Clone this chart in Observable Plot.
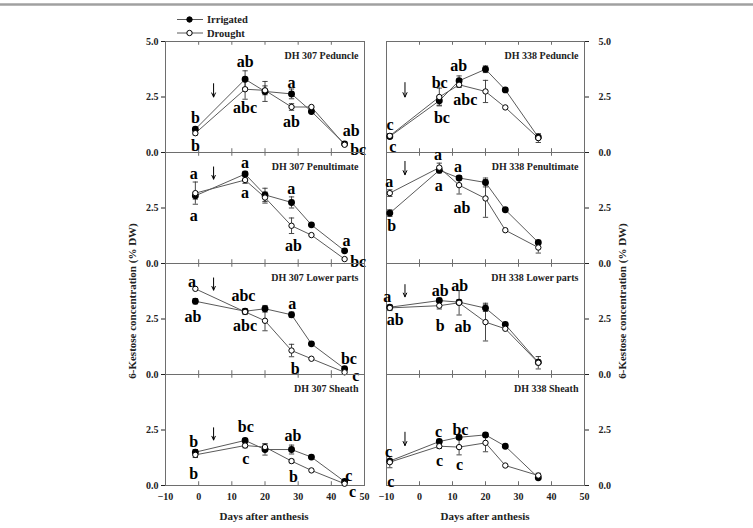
<!DOCTYPE html>
<html><head><meta charset="utf-8">
<script src="https://cdn.jsdelivr.net/npm/d3@7"></script>
<script src="https://cdn.jsdelivr.net/npm/@observablehq/plot@0.6"></script>
<style>
body{margin:0;background:#fff;}
#wrap{position:relative;width:753px;height:528px;overflow:hidden;background:#fff;font-family:'Liberation Serif','Times New Roman',serif;}
#wrap svg{position:absolute;overflow:visible;}
#wrap svg text{font-family:'Liberation Serif','Times New Roman',serif !important;}
</style></head><body><div id="wrap"></div>
<script>
const organs = ["Peduncle", "Penultimate", "Lower parts", "Sheath"];
const genotypes = ["DH 307", "DH 338"];
const days307 = [-1, 14, 20, 28, 34, 44];
const days338 = [-9, 6, 12, 20, 26, 36];
const xTicks = [-10, 0, 10, 20, 30, 40, 50];
const seriesNames = ["Irrigated", "Drought"];

// mean values, rows = organs
const irr307 = [
  [1.05, 3.3, 2.75, 2.64, 1.85, 0.39],
  [3.05, 4.03, 3.09, 2.75, 1.74, 0.57],
  [3.3, 2.85, 2.96, 2.69, 1.38, 0.26],
  [1.5, 2.03, 1.62, 1.62, 1.28, 0.18]];
const dro307 = [
  [0.87, 2.85, 2.8, 2.05, 2.05, 0.35],
  [3.17, 3.76, 2.97, 1.7, 1.28, 0.2],
  [3.86, 2.82, 2.42, 1.08, 0.71, 0.1],
  [1.38, 1.8, 1.73, 1.1, 0.68, 0.08]];
const irr338 = [
  [0.72, 2.33, 3.23, 3.75, 2.82, 0.69],
  [2.27, 4.2, 3.85, 3.65, 2.42, 0.95],
  [3.03, 3.33, 3.26, 2.99, 2.25, 0.55],
  [1.1, 1.98, 2.17, 2.28, 1.77, 0.35]];
const dro338 = [
  [0.75, 2.5, 3.05, 2.75, 2.03, 0.65],
  [3.17, 4.32, 3.53, 2.93, 1.5, 0.72],
  [3.0, 3.1, 3.23, 2.36, 2.06, 0.53],
  [1.05, 1.77, 1.73, 1.92, 0.9, 0.45]];

// error bars (half-length)
const errIrr307 = [
  [0.08, 0.38, 0.45, 0.22, 0.05, 0.05],
  [0.15, 0.12, 0.3, 0.25, 0.05, 0.05],
  [0.12, 0.1, 0.15, 0.12, 0.05, 0.05],
  [0.12, 0.08, 0.25, 0.2, 0.05, 0.05]];
const errDro307 = [
  [0.08, 0.45, 0.2, 0.15, 0.05, 0.05],
  [0.5, 0.15, 0.25, 0.35, 0.05, 0.05],
  [0.05, 0.12, 0.45, 0.28, 0.05, 0.05],
  [0.12, 0.1, 0.15, 0.08, 0.05, 0.05]];
const errIrr338 = [
  [0.05, 0.2, 0.22, 0.15, 0.05, 0.05],
  [0.15, 0.12, 0.1, 0.2, 0.05, 0.08],
  [0.05, 0.1, 0.1, 0.15, 0.05, 0.05],
  [0.05, 0.08, 0.1, 0.08, 0.05, 0.05]];
const errDro338 = [
  [0.1, 0.4, 0.12, 0.5, 0.05, 0.2],
  [0.15, 0.2, 0.4, 0.85, 0.05, 0.25],
  [0.12, 0.15, 0.55, 0.85, 0.05, 0.28],
  [0.25, 0.1, 0.35, 0.4, 0.05, 0.1]];

// significance letters: [day, value, letter]
const letters307 = [
  [[-1, 1.56, "b"], [-1, 0.3, "b"], [14, 4.09, "ab"], [14, 2.01, "abc"], [28, 3.14, "a"], [28, 1.38, "ab"], [46, 0.98, "ab"], [48.1, 0.12, "bc"]],
  [[-1.5, 4.04, "a"], [-1.5, 2.15, "a"], [14, 4.54, "a"], [14, 3.18, "a"], [27.9, 3.36, "a"], [28.6, 0.8, "ab"], [44.6, 1.02, "a"], [48.1, 0.09, "bc"]],
  [[-2, 4.19, "a"], [-1.7, 2.58, "ab"], [13.5, 3.56, "abc"], [14, 2.18, "abc"], [28.2, 3.2, "a"], [29.1, 0.27, "b"], [45.3, 0.72, "bc"], [47.4, -0.06, "c"]],
  [[-1.5, 1.95, "b"], [-1.5, 0.54, "b"], [14.2, 2.63, "bc"], [14.2, 1.22, "c"], [28.4, 2.25, "ab"], [28.6, 0.37, "b"], [45.3, 0.44, "c"], [46.4, -0.3, "c"]]];
const letters338 = [
  [[-8.9, 1.25, "c"], [-8.1, 0.27, "c"], [6.1, 3.15, "bc"], [6.8, 1.55, "bc"], [11.9, 3.9, "ab"], [13.9, 2.37, "abc"]],
  [[-9.2, 3.69, "a"], [-8.4, 1.7, "b"], [5.6, 4.9, "a"], [5.8, 3.5, "a"], [11.7, 4.36, "a"], [12.9, 2.52, "ab"]],
  [[-9.8, 3.48, "a"], [-7.4, 2.46, "ab"], [6.3, 3.78, "ab"], [6.3, 2.18, "b"], [12.2, 4.0, "ab"], [13.2, 2.13, "ab"]],
  [[-9.4, 1.5, "c"], [-8.7, 0.15, "c"], [5.8, 2.4, "c"], [6.1, 1.13, "c"], [12.4, 2.51, "bc"], [12.1, 0.95, "c"]]];

// drought-onset arrows
const arrowDay = [4.5, -4.4];
const arrowTop307 = [3.1, 4.35, 4.35, 2.6];
const arrowBottom307 = [2.5, 3.8, 3.8, 2.05];
const arrowTop338 = [3.15, 4.6, 4.05, 2.4];
const arrowBottom338 = [2.5, 4.0, 3.5, 1.8];

const wrap = document.getElementById("wrap");
const frameLeft = [165, 386];
const frameW = [199, 198];
const rowTop = [41, 152, 263, 374];
const PH = 111;
const mL = 40, mR = 40, mT = 20, mB = 30;
const gridColor = "#6e6e6e";
const serif = "'Liberation Serif', 'Times New Roman', serif";

function panel(g, o) {
  const left = g === 0;
  const days = left ? days307 : days338;
  const irr = (left ? irr307 : irr338)[o];
  const dro = (left ? dro307 : dro338)[o];
  const eI = (left ? errIrr307 : errIrr338)[o];
  const eD = (left ? errDro307 : errDro338)[o];
  const rows = days.map((d, i) => ({day: d, irr: irr[i], dro: dro[i], eI: eI[i], eD: eD[i]}));
  const errRows = [];
  rows.forEach(r => {
    if (r.eI > 0.06) errRows.push({day: r.day, lo: r.irr - r.eI, hi: r.irr + r.eI});
    if (r.eD > 0.06) errRows.push({day: r.day, lo: r.dro - r.eD, hi: r.dro + r.eD});
  });
  const letters = (left ? letters307 : letters338)[o].map(([day, v, t]) => ({day, v, t}));
  const arrows = [{x: arrowDay[g], y1: (left ? arrowTop307 : arrowTop338)[o], y2: (left ? arrowBottom307 : arrowBottom338)[o]}];
  const inner = xTicks.slice(1, -1);
  const bottom = o === 3;
  const plot = Plot.plot({
    width: mL + frameW[g] + mR,
    height: mT + PH + mB,
    marginLeft: mL, marginRight: mR, marginTop: mT, marginBottom: mB,
    style: {background: "transparent", overflow: "visible", fontFamily: serif, fontSize: "10px", fontWeight: "bold", color: "#222"},
    x: {domain: [-10, 50], ticks: xTicks, axis: bottom ? "bottom" : null, tickSize: 0, tickPadding: 7, label: null},
    y: {domain: [0, 5], ticks: o === 0 ? [0, 2.5, 5] : [0, 2.5], tickFormat: ".1f", axis: left ? "left" : "right", tickSize: 4, tickPadding: left ? 3 : 10, label: null},
    marks: [
      Plot.frame({stroke: gridColor}),
      Plot.ruleX(inner, {x: d => d, y1: 0, y2: 0.17, stroke: gridColor}),
      Plot.ruleX(inner, {x: d => d, y1: 4.83, y2: 5, stroke: gridColor}),
      Plot.ruleX(errRows, {x: "day", y1: "lo", y2: "hi", stroke: "#333", strokeWidth: 0.9}),
      Plot.link(errRows, {x1: d => d.day - 0.8, x2: d => d.day + 0.8, y1: "hi", y2: "hi", stroke: "#333", strokeWidth: 0.9}),
      Plot.link(errRows, {x1: d => d.day - 0.8, x2: d => d.day + 0.8, y1: "lo", y2: "lo", stroke: "#333", strokeWidth: 0.9}),
      Plot.line(rows, {x: "day", y: "irr", stroke: "#5a5a5a", strokeWidth: 1}),
      Plot.line(rows, {x: "day", y: "dro", stroke: "#5a5a5a", strokeWidth: 1}),
      Plot.dot(rows, {x: "day", y: "irr", r: 2.7, fill: "#000", stroke: "#000"}),
      Plot.dot(rows, {x: "day", y: "dro", r: 2.7, fill: "#fff", stroke: "#000", strokeWidth: 1}),
      Plot.text([genotypes[g] + " " + organs[o]], {text: d => d, frameAnchor: "top-right", textAnchor: "end", lineAnchor: "middle", dx: -6, dy: 14, fontSize: 10, fontWeight: "bold", fontFamily: serif, fill: "#222"}),
      Plot.text(letters, {x: "day", y: "v", text: "t", fontSize: 16, fontWeight: "bold", fontFamily: serif, fill: "#000"}),
      Plot.arrow(arrows, {x1: "x", x2: "x", y1: "y1", y2: "y2", stroke: "#000", strokeWidth: 1, headLength: 8, headAngle: 50})
    ]
  });
  plot.style.left = (frameLeft[g] - mL) + "px";
  plot.style.top = (rowTop[o] - mT) + "px";
  wrap.appendChild(plot);
}

for (let g = 0; g < 2; g++) for (let o = 0; o < 4; o++) panel(g, o);

// overlay: top rule, legend, axis titles
const svg = d3.select(wrap).append("svg")
  .attr("width", 753).attr("height", 528)
  .style("left", "0px").style("top", "0px")
  .attr("font-family", serif).attr("font-weight", "bold");
svg.append("line").attr("x1", 0).attr("x2", 753).attr("y1", 4.5).attr("y2", 4.5).attr("stroke", "#a0a0a0").attr("stroke-width", 2.5);
const legY = [19.5, 33];
seriesNames.forEach((name, i) => {
  const gg = svg.append("g");
  gg.append("line").attr("x1", 177).attr("x2", 203).attr("y1", legY[i]).attr("y2", legY[i]).attr("stroke", "#5a5a5a");
  gg.append("circle").attr("cx", 189.5).attr("cy", legY[i]).attr("r", 2.7).attr("fill", i === 0 ? "#000" : "#fff").attr("stroke", "#000");
  gg.append("text").attr("x", 207).attr("y", legY[i]).attr("dy", "0.35em").attr("font-size", 10.5).attr("fill", "#222").text(name);
});
const yTitle = "6-Kestose concentration (% DW)";
[132, 622].forEach(x => {
  svg.append("text").attr("transform", `translate(${x},301) rotate(-90)`).attr("text-anchor", "middle").attr("dy", "0.35em").attr("font-size", 11).attr("fill", "#222").text(yTitle);
});
[264, 485].forEach(x => {
  svg.append("text").attr("x", x).attr("y", 516).attr("text-anchor", "middle").attr("dy", "0.35em").attr("font-size", 11).attr("fill", "#222").text("Days after anthesis");
});
</script></body></html>
